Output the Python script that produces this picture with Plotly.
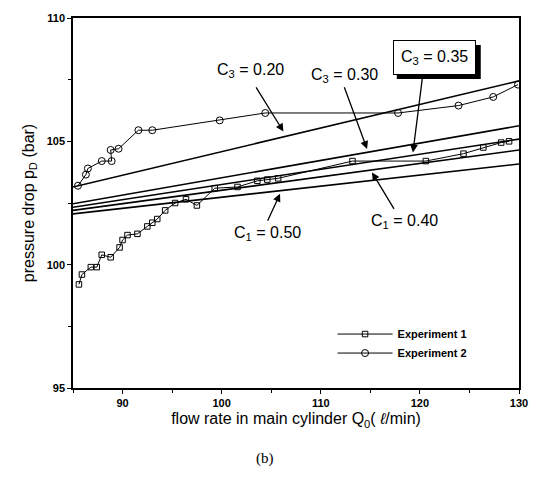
import plotly.graph_objects as go

# ---- data ----
q_model = [85, 130]
c3_020 = [103.15, 107.45]
c3_030 = [102.47, 105.63]
c3_035 = [102.33, 105.09]
c1_040 = [102.20, 104.65]
c1_050 = [102.06, 104.08]

exp1_q = [85.6, 85.9, 86.8, 87.4, 87.9, 88.8, 89.7, 90.0, 90.5, 91.5, 92.5, 93.0, 93.5,
          94.3, 95.3, 96.4, 97.5, 99.3, 101.6, 103.6, 104.6, 105.7, 113.2, 120.6, 124.4,
          126.4, 128.2, 129.0]
exp1_p = [99.2, 99.6, 99.9, 99.9, 100.4, 100.3, 100.7, 101.0, 101.2, 101.25, 101.55, 101.7,
          101.85, 102.2, 102.5, 102.65, 102.4, 103.1, 103.15, 103.4, 103.45, 103.5, 104.2,
          104.2, 104.5, 104.75, 104.95, 105.0]

exp2_q = [85.5, 86.3, 86.5, 87.9, 88.9, 88.8, 89.6, 91.6, 93.0, 99.8, 104.4, 117.8, 123.9,
          127.4, 129.9]
exp2_p = [103.2, 103.65, 103.9, 104.2, 104.2, 104.65, 104.7, 105.45, 105.45, 105.85, 106.15,
          106.15, 106.45, 106.8, 107.3]

x_ticks = [90, 100, 110, 120, 130]
y_ticks = [95, 100, 105, 110]

# label text, label position, arrow tail, arrow tip (data coordinates)
labels = [
    ("C<sub>3</sub> = 0.20", 102.9, 107.86, 103.38, 107.25, 106.23, 105.40),
    ("C<sub>3</sub> = 0.30", 112.4, 107.65, 112.32, 107.25, 114.67, 104.69),
    ("C<sub>3</sub> = 0.35", 121.5, 108.38, 120.26, 107.60, 119.30, 104.55),
    ("C<sub>1</sub> = 0.50", 104.6, 101.27, 104.57, 101.72, 105.89, 102.87),
    ("C<sub>1</sub> = 0.40", 118.4, 101.75, 117.48, 102.20, 115.17, 103.74),
]

fig = go.Figure()

for vals in [c3_020, c3_030, c3_035, c1_040, c1_050]:
    fig.add_trace(go.Scatter(x=q_model, y=vals, mode="lines",
                             line=dict(color="black", width=1.6), showlegend=False,
                             hoverinfo="skip"))

fig.add_trace(go.Scatter(x=exp1_q, y=exp1_p, mode="lines+markers", name="Experiment 1",
                         line=dict(color="black", width=1),
                         marker=dict(symbol="square-open", size=5.5, color="black",
                                     line=dict(width=1))))
fig.add_trace(go.Scatter(x=exp2_q, y=exp2_p, mode="lines+markers", name="Experiment 2",
                         line=dict(color="black", width=1),
                         marker=dict(symbol="circle-open", size=7, color="black",
                                     line=dict(width=1))))

lab_font = dict(family="Liberation Sans, Arial", size=16, color="black")
for i, (txt, tx, ty, ax, ay, hx, hy) in enumerate(labels):
    boxed = i == 2
    if boxed:
        # drop shadow of the boxed label
        fig.add_shape(type="rect", xref="x", yref="y", xsizemode="pixel",
                      ysizemode="pixel", xanchor=tx, yanchor=ty,
                      x0=-38, x1=46, y0=-21, y1=13, fillcolor="black",
                      line=dict(width=0), layer="above")
    fig.add_annotation(x=tx, y=ty, xref="x", yref="y", text=txt, showarrow=False,
                       font=lab_font,
                       bordercolor="black" if boxed else None,
                       borderwidth=1 if boxed else 0,
                       borderpad=7 if boxed else 0,
                       bgcolor="white" if boxed else None)
    fig.add_annotation(x=hx, y=hy, ax=ax, ay=ay, xref="x", yref="y", axref="x", ayref="y",
                       text="", showarrow=True, arrowhead=2, arrowsize=1.2,
                       arrowwidth=1.3, arrowcolor="black")

fig.add_annotation(x=0.43, y=-0.19, xref="paper", yref="paper", text="(b)",
                   showarrow=False, yanchor="middle",
                   font=dict(family="Liberation Serif, Times New Roman",
                             size=15, color="black"))

axis_common = dict(showgrid=False, zeroline=False, showline=True, linecolor="black",
                   linewidth=1.5, mirror=True, ticks="outside", ticklen=4,
                   tickcolor="black", tickwidth=1.2,
                   tickfont=dict(family="Liberation Sans, Arial", size=11, color="black",
                                 weight="bold"))

fig.update_xaxes(range=[85, 130], tickvals=x_ticks, ticktext=[str(t) for t in x_ticks],
                 minor=dict(dtick=5, tick0=85, ticks="outside", ticklen=3,
                            tickcolor="black"),
                 title=dict(text="flow rate in main cylinder Q<sub>0</sub>( <i>ℓ</i>/min)",
                            font=dict(family="Liberation Sans, Arial", size=16,
                                      color="black"), standoff=5),
                 **axis_common)
fig.update_yaxes(range=[95, 110], tickvals=y_ticks, ticktext=[str(t) for t in y_ticks],
                 minor=dict(dtick=2.5, tick0=95, ticks="outside", ticklen=3,
                            tickcolor="black"),
                 title=dict(text="pressure drop p<sub>D</sub> (bar)",
                            font=dict(family="Liberation Sans, Arial", size=16,
                                      color="black"), standoff=8),
                 **axis_common)

fig.update_layout(width=540, height=482, margin=dict(l=73, r=14, t=17, b=94),
                  plot_bgcolor="white", paper_bgcolor="white",
                  legend=dict(x=0.582, y=0.185, xanchor="left", yanchor="top",
                              bgcolor="rgba(0,0,0,0)", borderwidth=0,
                              font=dict(family="Liberation Sans, Arial", size=11,
                                        color="black", weight="bold"),
                              tracegroupgap=0, itemwidth=55))

fig.write_html("out.html")
